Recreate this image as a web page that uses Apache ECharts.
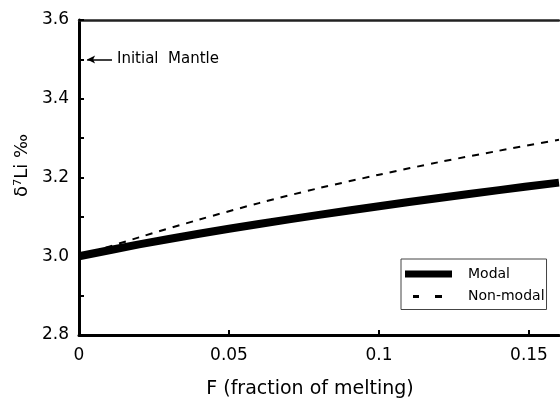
<!DOCTYPE html>
<html>
<head>
<meta charset="utf-8">
<script src="https://cdn.jsdelivr.net/npm/echarts@6/dist/echarts.min.js"></script>
<style>
  html, body { margin: 0; padding: 0; background: #fff; }
  #chart { width: 560px; height: 406px; }
</style>
</head>
<body>
<div id="chart"></div>
<script>
// Degree of melting F and the resulting melt δ7Li for two melting models
const meltFraction = [0, 0.02, 0.04, 0.06, 0.08, 0.10, 0.12, 0.14, 0.16];
const modalLi     = [3.000, 3.030, 3.057, 3.082, 3.105, 3.127, 3.148, 3.168, 3.187];
const nonModalLi  = [3.000, 3.048, 3.093, 3.135, 3.173, 3.207, 3.239, 3.268, 3.296];
const seriesNames = ['Modal', 'Non-modal'];
const xTicks = [0, 0.05, 0.1, 0.15];
const yTicks = [2.8, 3.0, 3.2, 3.4, 3.6];
const initialMantle = 3.5;
const mantleLabel = 'Initial  Mantle';

const FONT = '"DejaVu Sans", sans-serif';
const pairs = (xs, ys) => xs.map((x, i) => [x, ys[i]]);

const chart = echarts.init(document.getElementById('chart'), null, { renderer: 'canvas' });

chart.setOption({
  animation: false,
  backgroundColor: '#fff',
  grid: { left: 79, right: 1, top: 20, bottom: 71 },
  xAxis: [
    {
      type: 'value',
      min: xTicks[0],
      max: 0.16,
      interval: 0.05,
      name: 'F (fraction of melting)',
      nameLocation: 'middle',
      nameGap: 45,
      nameTextStyle: { fontFamily: FONT, fontSize: 19, color: '#000', padding: [0, 18, 0, 0] },
      axisLine: { show: true, lineStyle: { color: '#000', width: 3 } },
      axisTick: { show: true, inside: true, length: 5, lineStyle: { color: '#000', width: 2 } },
      axisLabel: {
        fontFamily: FONT, fontSize: 17, color: '#000', margin: 12,
        showMaxLabel: false,
        formatter: v => (xTicks.some(t => Math.abs(t - v) < 1e-9) ? String(+v.toFixed(2)) : '')
      },
      splitLine: { show: false }
    },
    {
      type: 'value',
      position: 'top',
      min: xTicks[0],
      max: 0.16,
      axisLine: { show: true, lineStyle: { color: '#222', width: 2.5 } },
      axisTick: { show: false },
      axisLabel: { show: false },
      splitLine: { show: false }
    }
  ],
  yAxis: {
    type: 'value',
    min: yTicks[0],
    max: yTicks[yTicks.length - 1],
    interval: 0.2,
    name: 'δ⁷Li ‰',
    nameLocation: 'middle',
    nameGap: 46,
    nameTextStyle: { fontFamily: FONT, fontSize: 18, color: '#000', padding: [0, 0, 0, 24] },
    axisLine: { show: true, lineStyle: { color: '#000', width: 3 } },
    axisTick: { show: true, inside: true, length: 5, lineStyle: { color: '#000', width: 2 } },
    minorTick: { show: true, splitNumber: 2, length: 5, lineStyle: { color: '#000', width: 2 } },
    axisLabel: {
      fontFamily: FONT, fontSize: 17, color: '#000', margin: 10,
      formatter: v => v.toFixed(1)
    },
    splitLine: { show: false }
  },
  legend: {
    left: 401,
    top: 259,
    orient: 'vertical',
    backgroundColor: '#fff',
    borderColor: '#444',
    borderWidth: 1,
    borderRadius: 0,
    padding: [8, 2, 6, 4],
    itemWidth: 47,
    itemHeight: 7,
    itemGap: 8.5,
    textStyle: { fontFamily: FONT, fontSize: 14, color: '#000', padding: [0, 0, 0, 11] },
    data: [
      { name: seriesNames[0], icon: 'rect' },
      { name: seriesNames[1], icon: 'path://M0,0h0.01v0.01h-0.01z M8,2h6v3h-6z M30,2h7v3h-7z M46.99,6.99h0.01v0.01h-0.01z' }
    ]
  },
  series: [
    {
      name: seriesNames[0],
      type: 'line',
      data: pairs(meltFraction, modalLi),
      smooth: 0.3,
      symbol: 'none',
      itemStyle: { color: '#000' },
      lineStyle: { color: '#000', width: 8, cap: 'butt' },
      z: 3,
      markLine: {
        silent: true,
        symbol: ['none', 'arrow'],
        symbolSize: [6, 8],
        lineStyle: { color: '#000', width: 1.5, type: 'solid' },
        label: {
          show: true,
          position: 'start',
          distance: 5,
          formatter: mantleLabel,
          fontFamily: FONT, fontSize: 15, color: '#000'
        },
        data: [[
          { coord: [0.011, initialMantle] },
          { coord: [0.0027, initialMantle] }
        ]]
      }
    },
    {
      name: seriesNames[1],
      type: 'line',
      data: pairs(meltFraction, nonModalLi),
      smooth: 0.3,
      symbol: 'none',
      itemStyle: { color: '#000' },
      lineStyle: { color: '#000', width: 2, type: [7, 7] },
      z: 2
    }
  ]
});
</script>
</body>
</html>
